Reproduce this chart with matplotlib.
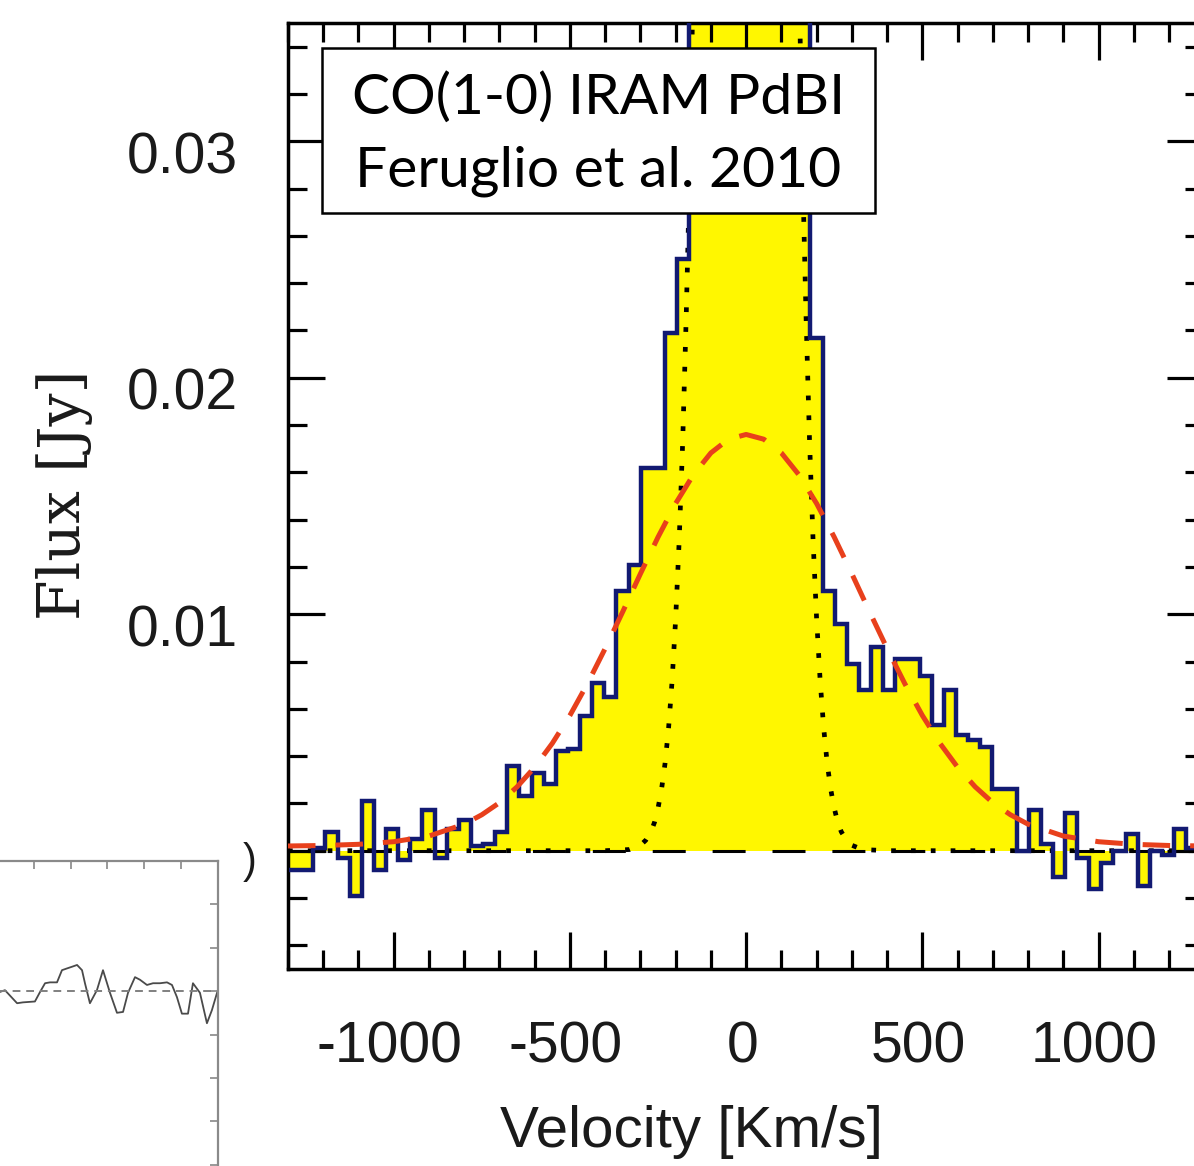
import numpy as np
import matplotlib
matplotlib.use("Agg")
import matplotlib.pyplot as plt
from matplotlib.patches import Rectangle
from matplotlib.ticker import MultipleLocator
from matplotlib.transforms import ScaledTranslation

plt.rcParams['axes.unicode_minus'] = False

# CO(1-0) spectrum: channel centres (km/s) and flux density per channel (Jy)
channel_width = 34.4
velocity = [-1279.6, -1245.2, -1210.8, -1176.4, -1142.0, -1107.6, -1073.2, -1038.8,
            -1004.4, -970.0, -935.6, -901.2, -866.8, -832.4, -798.0, -763.6,
            -729.2, -694.8, -660.4, -626.0, -591.6, -557.2, -522.8, -488.4,
            -454.0, -419.6, -385.2, -350.8, -316.4, -282.0, -247.6, -213.2,
            -178.8, -144.4, -110.0, -75.6, -41.2, -6.8, 27.6, 62.0,
            96.4, 130.8, 165.2, 199.6, 234.0, 268.4, 302.8, 337.2,
            371.6, 406.0, 440.4, 474.8, 509.2, 543.6, 578.0, 612.4,
            646.8, 681.2, 715.6, 750.0, 784.4, 818.8, 853.2, 887.6,
            922.0, 956.4, 990.8, 1025.2, 1059.6, 1094.0, 1128.4, 1162.8,
            1197.2, 1231.6, 1266.0, 1300.4]
flux = [-0.0008, -0.0008, 0.0001, 0.0008, -0.0003, -0.0019, 0.0021, -0.0008,
        0.0009, -0.0004, 0.0005, 0.0017, -0.0003, 0.0009, 0.0013, 0.0002,
        0.0003, 0.0008, 0.0036, 0.0023, 0.0033, 0.0028, 0.0042, 0.0043,
        0.0057, 0.0071, 0.0065, 0.0110, 0.0121, 0.0162, 0.0162, 0.0219,
        0.0250, 0.046, 0.080, 0.140, 0.190, 0.215, 0.205, 0.170,
        0.120, 0.075, 0.042, 0.0217, 0.0110, 0.0096, 0.0079, 0.0068,
        0.0086, 0.0068, 0.0081, 0.0081, 0.0074, 0.0053, 0.0068, 0.0049,
        0.0047, 0.0044, 0.0026, 0.0026, 0.0000, 0.0017, 0.0003, -0.0011,
        0.0016, -0.0003, -0.0016, -0.0005, 0.0000, 0.0007, -0.0015, 0.0000,
        -0.0002, 0.0009, 0.0001, 0.0001]

# Broad (outflow) component of the fit
broad_velocity = [-1300, -1200, -1100, -1000, -900, -800, -750, -700, -650, -600,
                  -550, -500, -450, -400, -350, -300, -250, -200, -150, -100,
                  -50, 0, 50, 100, 150, 200, 250, 300, 350, 400, 450, 500, 550,
                  600, 650, 700, 750, 800, 900, 1000, 1100, 1200, 1300]
broad_flux = [0.0002, 0.00022, 0.00027, 0.00038, 0.00062, 0.00112, 0.00152, 0.00203,
              0.0027, 0.00353, 0.00454, 0.00572, 0.00707, 0.00855, 0.01011, 0.01171,
              0.01326, 0.01468, 0.01589, 0.01682, 0.0174, 0.0176, 0.0174, 0.01682,
              0.01589, 0.01468, 0.01326, 0.01171, 0.01011, 0.00855, 0.00707, 0.00572,
              0.00454, 0.00353, 0.0027, 0.00203, 0.00152, 0.00112, 0.00062, 0.00038,
              0.00027, 0.00022, 0.0002]

# Narrow (core) component of the fit
narrow_velocity = [-1300, -400, -330, -300, -285, -270, -260, -250, -240, -230, -220,
                   -210, -200, -190, -180, -170, -160, -140, 0, 140, 160, 170, 180,
                   190, 200, 210, 220, 230, 240, 250, 260, 270, 285, 300, 330, 400, 1300]
narrow_flux = [0.0, 0.0, 0.00005, 0.00023, 0.00044, 0.0008, 0.0012, 0.0018, 0.0026,
               0.0037, 0.0052, 0.0072, 0.0098, 0.0131, 0.0173, 0.0226, 0.0289, 0.0453,
               0.198, 0.0453, 0.0289, 0.0226, 0.0173, 0.0131, 0.0098, 0.0072, 0.0052,
               0.0037, 0.0026, 0.0018, 0.0012, 0.0008, 0.00044, 0.00023, 0.00005, 0.0, 0.0]

# Neighbouring panel spectrum
panel_velocity = [-1000, -984, -957, -891, -859, -794, -766, -739, -712, -674, -647,
                  -620, -592, -565, -538, -522, -495, -457, -424, -386, -348, -315,
                  -288, -250, -223, -185, -152, -114, -76, -49, -22, 5, 38, 65,
                  103, 141, 168, 196]
panel_flux = [-0.0001, -0.0001, 0.0001, -0.0014, -0.0013, -0.0012, -0.0001, 0.0009,
              0.0010, 0.0010, 0.0024, 0.0026, 0.0028, 0.0030, 0.0024, 0.0009, -0.0014,
              0.0001, 0.0024, -0.0002, -0.0025, -0.0024, -0.0002, 0.0016, 0.0013,
              0.0007, 0.0009, 0.0009, 0.0010, 0.0007, -0.0007, -0.0026, -0.0026,
              0.0009, -0.0002, -0.0037, -0.0022, -0.0002]

x_ticks = [-1000, -500, 0, 500, 1000]
x_tick_labels = ['-1000', '-500', '0', '500', '1000']
y_ticks = [0.0, 0.01, 0.02, 0.03]
y_tick_labels = ['', '0.01', '0.02', '0.03']

YELLOW = '#FFF700'
NAVY = '#121a72'
RED = '#E8401C'
TICK_FONT = ['Liberation Sans', 'DejaVu Sans']

fig = plt.figure(figsize=(11.94, 11.66), dpi=100)
fig.patch.set_facecolor('white')

ax = fig.add_axes([0.2412, 0.1690, 0.7674, 0.8113])
v = np.asarray(velocity)
edges = np.append(v - channel_width / 2, v[-1] + channel_width / 2)

ax.stairs(flux, edges, baseline=0, fill=True, color=YELLOW, lw=0, zorder=1)
ax.axhline(0, color='black', lw=2.2, ls=(18, (10.8, 8.8)), zorder=2)
ax.plot(narrow_velocity, narrow_flux, color='black', lw=3.4, ls=(0, (1, 3.2)), zorder=3)
ax.stairs(flux, edges, baseline=None, color=NAVY, lw=3.2, zorder=4)
ax.plot(broad_velocity, broad_flux, color=RED, lw=3.6, ls=(0, (5.5, 4)), zorder=5)

ax.set_xlim(-1300, 1300)
ax.set_ylim(-0.005, 0.035)

ax.set_xticks(x_ticks, x_tick_labels)
ax.set_yticks(y_ticks, y_tick_labels)
ax.xaxis.set_minor_locator(MultipleLocator(100))
ax.yaxis.set_minor_locator(MultipleLocator(0.002))
ax.tick_params(which='both', direction='in', top=True, right=True, width=2.3, color='black')
ax.tick_params(which='major', length=26.6)
ax.tick_params(which='minor', length=13.7)
ax.tick_params(axis='x', which='major', pad=37, labelsize=41, labelcolor='#1a1a1a')
ax.tick_params(axis='y', which='major', pad=36, labelsize=41, labelcolor='#1a1a1a')
for lab in ax.get_xticklabels() + ax.get_yticklabels():
    lab.set_fontfamily(TICK_FONT)
yshift = ScaledTranslation(0, -11 / 100, fig.dpi_scale_trans)
for lab in ax.get_yticklabels():
    lab.set_transform(lab.get_transform() + yshift)
xshift = ScaledTranslation(-4 / 100, 0, fig.dpi_scale_trans)
for lab in ax.get_xticklabels():
    lab.set_transform(lab.get_transform() + xshift)
for sp in ax.spines.values():
    sp.set_linewidth(2.5)

ax.set_xlabel('Velocity [Km/s]', fontsize=42, family=TICK_FONT, color='#1a1a1a')
ax.xaxis.label.set_va('center')
ax.xaxis.set_label_coords(0.4398, -0.1723)
ax.set_ylabel('Flux [Jy]', fontsize=42, family=['DejaVu Serif', 'DejaVu Sans'],
              color='#1a1a1a')
ax.yaxis.label.set_va('center')
ax.yaxis.label.set_ha('center')
ax.yaxis.set_label_coords(-0.2434, 0.501)

# Annotation box
ax.add_patch(Rectangle((0.0371, 0.7992), 0.6036, 0.1744, transform=ax.transAxes,
                       facecolor='white', edgecolor='black', lw=1.8, zorder=10,
                       clip_on=False))
ax.text(0.3389, 0.9207, 'CO(1-0) IRAM PdBI', transform=ax.transAxes, ha='center',
        va='center', fontsize=41, family=['Lato', 'DejaVu Sans'], zorder=11)
ax.text(0.3389, 0.8436, 'Feruglio et al. 2010', transform=ax.transAxes, ha='center',
        va='center', fontsize=41, family=['Lato', 'DejaVu Sans'], zorder=11)

fig.text(250 / 1194, 1 - 862 / 1166, ')', fontsize=30, family=TICK_FONT,
         ha='center', va='center', color='#1a1a1a')

# Neighbouring panel, cut at the figure edge
ax2 = fig.add_axes([-0.0333, -0.0364, 0.2157, 0.2983])
ax2.set_facecolor('white')
ax2.plot(panel_velocity, panel_flux, color='#4a4a4a', lw=1.3)
ax2.axhline(0, color='#808080', lw=1.4, ls=(0, (4, 3)))
ax2.set_xlim(-1200, 200)
ax2.set_ylim(-0.025, 0.015)
ax2.set_xticks([-1000, -800, -600, -400, -200, 0])
ax2.yaxis.set_major_locator(MultipleLocator(0.005))
ax2.xaxis.set_ticks_position('top')
ax2.yaxis.set_ticks_position('right')
ax2.tick_params(which='both', direction='in', length=5.8, width=1.2, color='#888888',
                labeltop=False, labelright=False, labelbottom=False, labelleft=False)
for sp in ax2.spines.values():
    sp.set_color('#8a8a8a')
    sp.set_linewidth(1.6)

fig.savefig('out.png', dpi=100)
